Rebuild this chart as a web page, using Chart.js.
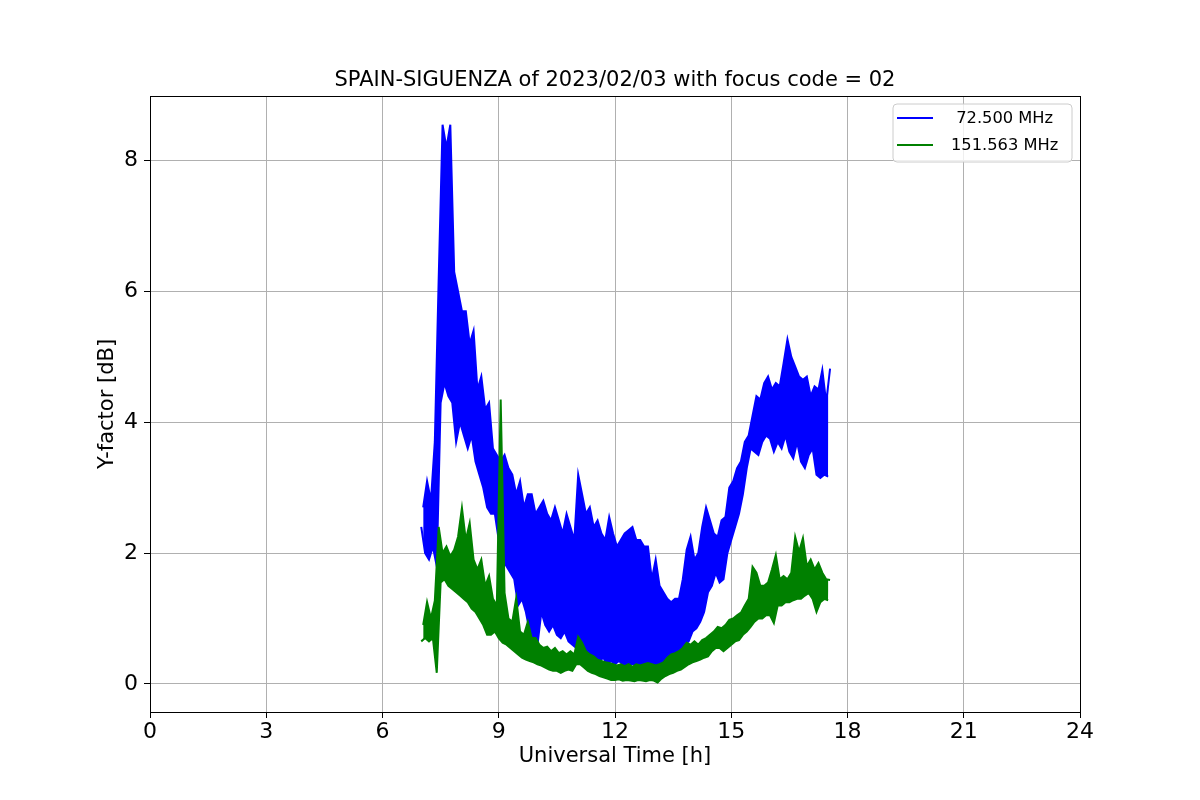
<!DOCTYPE html>
<html>
<head>
<meta charset="utf-8">
<script src="https://cdn.jsdelivr.net/npm/chart.js@4.4.0/dist/chart.umd.min.js"></script>
<style>
  body { margin: 0; background: #fff; }
  #wrap { width: 1200px; height: 800px; }
</style>
</head>
<body>
<div id="wrap"><canvas id="yfactor" width="1200" height="800"></canvas></div>
<script>
// sample grid: one low/high pair every 0.1 h from 07:00 to 17:30 UT
const startHour = 7.0;
const stepHour = 0.1;

const xTicks = [0, 3, 6, 9, 12, 15, 18, 21, 24];
const yTicks = [0, 2, 4, 6, 8];

const seriesLabels = [' 72.500 MHz', '151.563 MHz'];

// 72.500 MHz, upper and lower edge of the noisy trace
const blueHigh = [
    2.7, 3.1, 2.8, 3.7, 6.2, 8.55, 8.2, 8.55, 6.3, 6.0,
    5.7, 5.7, 5.2, 5.4, 4.5, 4.7, 4.2, 4.3, 3.6, 3.5,
    3.4, 3.5, 3.3, 3.2, 2.9, 3.1, 2.7, 2.9, 2.9, 2.6,
    2.7, 2.8, 2.6, 2.5, 2.7, 2.5, 2.3, 2.6, 2.4, 2.2,
    3.2, 2.9, 2.6, 2.7, 2.4, 2.5, 2.3, 2.2, 2.55, 2.3,
    2.1, 2.2, 2.3, 2.35, 2.4, 2.2, 2.2, 2.1, 2.1, 1.6,
    1.9, 1.5, 1.4, 1.3, 1.25, 1.3, 1.3, 1.6, 2.05, 2.25,
    1.9, 2.0, 2.4, 2.7, 2.5, 2.3, 2.25, 2.5, 2.55, 3.0,
    3.1, 3.3, 3.4, 3.7, 3.8, 4.1, 4.4, 4.35, 4.6, 4.7,
    4.5, 4.6, 4.55, 4.9, 5.27, 5.0, 4.85, 4.7, 4.65, 4.7,
    4.4, 4.55, 4.5, 4.8, 4.3, 4.82
];
const blueLow = [
    2.4, 2.0, 1.9, 2.1, 1.8, 4.3, 4.6, 4.4, 4.3, 3.7,
    4.0, 3.8, 3.6, 3.8, 3.4, 3.2, 3.0, 2.7, 2.6, 2.6,
    2.2, 1.9, 1.8, 1.7, 1.6, 1.2, 1.3, 1.1, 0.8, 0.7,
    0.6, 1.1, 0.9, 0.8, 0.9, 0.75, 0.7, 0.8, 0.65, 0.6,
    0.55, 0.6, 0.5, 0.4, 0.45, 0.4, 0.35, 0.4, 0.3, 0.35,
    0.3, 0.35, 0.3, 0.25, 0.3, 0.3, 0.25, 0.3, 0.25, 0.3,
    0.15, 0.05, 0.1, 0.2, 0.3, 0.35, 0.4, 0.5, 0.6, 0.65,
    0.8, 0.85, 0.95, 1.1, 1.4, 1.5, 1.7, 1.55, 1.6, 2.0,
    2.2, 2.4, 2.6, 2.9, 3.3, 3.6, 3.55, 3.5, 3.7, 3.8,
    3.75, 3.55, 3.7, 3.6, 3.8, 3.55, 3.45, 3.7, 3.4, 3.3,
    3.5, 3.6, 3.2, 3.15, 3.2, 3.17
];

// 151.563 MHz
const greenHigh = [
    0.9, 1.25, 1.0, 1.27, 2.4, 2.0, 2.1, 1.95, 2.05, 2.25,
    2.69, 2.2, 2.46, 1.9, 1.75, 1.9, 1.5, 1.65, 1.3, 1.2,
    4.35, 1.39, 1.0, 0.95, 1.31, 0.8, 0.75, 0.95, 0.7, 0.7,
    0.6, 0.55, 0.57, 0.5, 0.55, 0.47, 0.5, 0.45, 0.5, 0.45,
    0.72, 0.63, 0.5, 0.45, 0.42, 0.37, 0.35, 0.33, 0.32, 0.3,
    0.28, 0.3, 0.27, 0.3, 0.26, 0.3, 0.28, 0.3, 0.32, 0.3,
    0.28, 0.3, 0.33, 0.4, 0.45, 0.47, 0.5, 0.55, 0.63, 0.6,
    0.65, 0.6, 0.67, 0.7, 0.75, 0.8, 0.87, 0.85, 0.9, 0.98,
    1.0, 1.05, 1.09, 1.2, 1.3, 1.79, 1.7, 1.5, 1.5, 1.55,
    1.75, 1.97, 1.6, 1.65, 1.6, 1.7, 2.25, 2.02, 2.23, 1.8,
    1.9, 1.75, 1.85, 1.7, 1.6, 1.59
];
const greenLow = [
    0.65, 0.7, 0.65, 0.7, 0.17, 1.55, 1.6, 1.5, 1.45, 1.4,
    1.35, 1.3, 1.25, 1.15, 1.1, 1.0, 0.9, 0.75, 0.75, 0.8,
    0.7, 0.63, 0.6, 0.55, 0.5, 0.45, 0.4, 0.37, 0.35, 0.33,
    0.3, 0.28, 0.25, 0.22, 0.2, 0.2, 0.17, 0.2, 0.22, 0.2,
    0.3, 0.3, 0.25, 0.2, 0.17, 0.15, 0.12, 0.1, 0.08, 0.06,
    0.06, 0.07, 0.05, 0.06, 0.05, 0.04, 0.06, 0.05, 0.04, 0.06,
    0.05, 0.02, 0.08, 0.12, 0.15, 0.17, 0.2, 0.22, 0.26, 0.3,
    0.33, 0.35, 0.37, 0.4, 0.42, 0.5, 0.55, 0.55, 0.5, 0.55,
    0.6, 0.65, 0.67, 0.75, 0.8, 0.87, 0.95, 1.0, 1.0, 1.05,
    1.05, 0.93, 1.2, 1.2, 1.25, 1.25, 1.28, 1.3, 1.3, 1.35,
    1.39, 1.3, 1.1, 1.25, 1.3, 1.28
];

const FONT = 'DejaVu Sans';
const TITLE = 'SPAIN-SIGUENZA of 2023/02/03 with focus code = 02';

// high edge sits half a step after the low edge so the trace looks jagged
const toPoints = (values, shift) =>
    values.map((v, i) => ({ x: startHour + i * stepHour + shift, y: v }));

// matplotlib style box, title over the axes and legend inside them
const boxAndLegend = {
    id: 'boxAndLegend',
    afterDraw(chart) {
        const { ctx, chartArea: a } = chart;
        ctx.save();
        ctx.strokeStyle = '#000';
        ctx.lineWidth = 1;
        ctx.strokeRect(Math.round(a.left) + 0.5, Math.round(a.top) + 0.5,
            Math.round(a.right - a.left), Math.round(a.bottom - a.top));

        ctx.fillStyle = '#000';
        ctx.font = '21px ' + FONT;
        ctx.textAlign = 'center';
        ctx.textBaseline = 'middle';
        ctx.fillText(TITLE, (a.left + a.right) / 2, 81);

        const lx = 893, ly = 104, lw = 179, lh = 58, r = 4;
        ctx.beginPath();
        ctx.moveTo(lx + r, ly);
        ctx.arcTo(lx + lw, ly, lx + lw, ly + lh, r);
        ctx.arcTo(lx + lw, ly + lh, lx, ly + lh, r);
        ctx.arcTo(lx, ly + lh, lx, ly, r);
        ctx.arcTo(lx, ly, lx + lw, ly, r);
        ctx.closePath();
        ctx.fillStyle = 'rgba(255,255,255,0.8)';
        ctx.fill();
        ctx.strokeStyle = '#cccccc';
        ctx.stroke();

        ctx.font = '16.3px ' + FONT;
        ctx.textAlign = 'left';
        chart.data.datasets.filter(ds => ds.label).forEach((ds, i) => {
            const y = 118 + i * 27;
            ctx.strokeStyle = ds.borderColor;
            ctx.lineWidth = 2;
            ctx.beginPath();
            ctx.moveTo(897, y);
            ctx.lineTo(933, y);
            ctx.stroke();
            ctx.fillStyle = '#000';
            ctx.fillText(ds.label, 951, y + 1);
        });
        ctx.restore();
    }
};

const edge = (label, values, shift, color, fill, order) => ({
    label: label,
    data: toPoints(values, shift),
    borderColor: color,
    backgroundColor: color,
    borderWidth: 2,
    pointRadius: 0,
    tension: 0,
    fill: fill,
    order: order
});

const data = {
    datasets: [
        edge(seriesLabels[0], blueHigh, stepHour / 2, '#0000ff', '+1', 4),
        edge('', blueLow, 0, '#0000ff', false, 3),
        edge(seriesLabels[1], greenHigh, stepHour / 2, '#008000', '+1', 2),
        edge('', greenLow, 0, '#008000', false, 1)
    ]
};

const chartConfig = {
    type: 'line',
    data: data,
    options: {
        responsive: false,
        animation: false,
        layout: { padding: { left: 0, right: 120, top: 96, bottom: 0 } },
        plugins: {
            legend: { display: false },
            tooltip: { enabled: false },
            title: { display: false },
            filler: { propagate: false }
        },
        scales: {
            x: {
                type: 'linear',
                min: 0,
                max: 24,
                afterBuildTicks: scale => { scale.ticks = xTicks.map(v => ({ value: v })); },
                afterFit: scale => { scale.height = 88; },
                grid: { color: '#b0b0b0', tickColor: '#000', tickLength: 6, lineWidth: 1 },
                border: { color: '#000' },
                ticks: { color: '#000', font: { family: FONT, size: 22 }, padding: 1, maxRotation: 0 },
                title: {
                    display: true,
                    text: 'Universal Time [h]',
                    color: '#000',
                    font: { family: FONT, size: 21 },
                    padding: { top: 0, bottom: 31 }
                }
            },
            y: {
                type: 'linear',
                min: -0.43,
                max: 8.99,
                afterBuildTicks: scale => { scale.ticks = yTicks.map(v => ({ value: v })); },
                afterFit: scale => { scale.width = 150; },
                grid: { color: '#b0b0b0', tickColor: '#000', tickLength: 6, lineWidth: 1 },
                border: { color: '#000' },
                ticks: { color: '#000', font: { family: FONT, size: 22 }, padding: 6 },
                title: {
                    display: true,
                    text: 'Y-factor [dB]',
                    color: '#000',
                    font: { family: FONT, size: 21 },
                    padding: { top: 95, bottom: 0 }
                }
            }
        }
    },
    plugins: [boxAndLegend]
};

const ctx = document.getElementById('yfactor').getContext('2d');
new Chart(ctx, chartConfig);
</script>
</body>
</html>
